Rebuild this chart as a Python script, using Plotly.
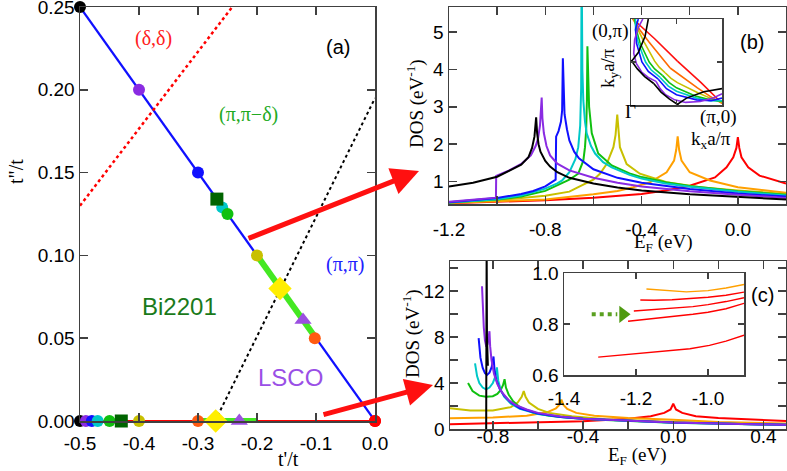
import plotly.graph_objects as go

W, H = 787, 471
SANS = "Liberation Sans"
SERIF = "Liberation Serif"
FRAME = "#404040"

# ---------------- colours ----------------
C_BLACK = "#000000"
C_PURPLE = "#8a2be2"
C_BLUE = "#1010ff"
C_CYAN = "#00c8c8"
C_GREEN = "#10c010"
C_OLIVE = "#c8c000"
C_ORANGE = "#ffa000"
C_ORANGERED = "#ff5a10"
C_RED = "#ff0000"
C_DKGREEN = "#006400"
C_YELLOW = "#ffee00"
C_TRI = "#9b4fe0"
C_LIME = "#44e822"

# ---------------- panel (a) data ----------------
diag_tp = [-0.5, 0.0]
diag_tpp = [0.25, 0.0]
base_tp = [-0.5, 0.0]
base_tpp = [0.0, 0.0]
green_diag_tp = [-0.2, -0.1]
green_diag_tpp = [0.10, 0.05]
green_base_tp = [-0.3, -0.2]
green_base_tpp = [0.0, 0.0]
dd_tp = [-0.5, -0.242]
dd_tpp = [0.13, 0.25]
pp_tp = [-0.271, 0.0]
pp_tpp = [0.0, 0.195]

circ_diag_tp = [-0.5, -0.4, -0.3, -0.259, -0.25, -0.2, -0.102, 0.0]
circ_diag_tpp = [0.25, 0.2, 0.15, 0.129, 0.125, 0.1, 0.05, 0.0]
circ_base_tp = [-0.5, -0.49, -0.48, -0.47, -0.45, -0.4, -0.3, 0.0]
circ_base_tpp = [0.0, 0.0, 0.0, 0.0, 0.0, 0.0, 0.0, 0.0]
circ_colors = [C_BLACK, C_PURPLE, C_BLUE, C_CYAN, C_GREEN, C_OLIVE, C_ORANGERED, C_RED]
sq_tp = [-0.268, -0.43]
sq_tpp = [0.134, 0.0]
dia_tp = [-0.161, -0.27]
dia_tpp = [0.08, 0.0]
tri_tp = [-0.122, -0.23]
tri_tpp = [0.061, 0.0]

# ---------------- panel (b) DOS data ----------------
b_black_e = [-1.2, -1.1, -1.0, -0.95, -0.9, -0.87, -0.855, -0.845, -0.84, -0.838, -0.834, -0.828, -0.82, -0.8, -0.78, -0.75, -0.7, -0.6, -0.5, -0.4, -0.2, 0.0, 0.2]
b_black_d = [0.87, 0.97, 1.13, 1.28, 1.45, 1.65, 1.9, 2.2, 2.5, 2.72, 2.3, 2.0, 1.8, 1.55, 1.4, 1.25, 1.1, 0.95, 0.84, 0.76, 0.66, 0.58, 0.52]
b_purple_e = [-1.2, -1.1, -1.005, -1.004, -0.95, -0.9, -0.86, -0.84, -0.83, -0.822, -0.818, -0.815, -0.812, -0.806, -0.795, -0.78, -0.75, -0.7, -0.6, -0.5, -0.4, -0.2, 0.0, 0.2]
b_purple_d = [0.46, 0.51, 0.57, 1.15, 1.3, 1.47, 1.7, 1.95, 2.15, 2.5, 2.8, 3.25, 2.7, 2.3, 1.95, 1.7, 1.48, 1.3, 1.1, 0.97, 0.87, 0.74, 0.65, 0.56]
b_blue_e = [-1.2, -1.1, -1.0, -0.9, -0.85, -0.8, -0.77, -0.757, -0.755, -0.745, -0.735, -0.73, -0.727, -0.724, -0.72, -0.71, -0.7, -0.68, -0.66, -0.6, -0.5, -0.4, -0.2, 0.0, 0.2]
b_blue_d = [0.45, 0.5, 0.56, 0.67, 0.75, 0.87, 0.98, 1.05, 2.2, 2.35, 2.6, 2.9, 4.3, 3.2, 2.8, 2.4, 2.1, 1.8, 1.62, 1.33, 1.1, 0.97, 0.8, 0.68, 0.6]
b_cyan_e = [-1.2, -1.0, -0.9, -0.8, -0.75, -0.73, -0.7, -0.69, -0.675, -0.663, -0.655, -0.651, -0.649, -0.646, -0.642, -0.635, -0.628, -0.61, -0.593, -0.56, -0.524, -0.45, -0.4, -0.3, -0.2, 0.0, 0.2]
b_cyan_d = [0.44, 0.53, 0.63, 0.81, 0.95, 1.03, 1.25, 1.38, 1.6, 1.92, 2.5, 3.5, 7.0, 4.0, 3.17, 2.6, 2.29, 1.95, 1.75, 1.52, 1.38, 1.18, 1.08, 0.95, 0.86, 0.73, 0.63]
b_green_e = [-1.2, -1.0, -0.9, -0.8, -0.7, -0.663, -0.642, -0.635, -0.63, -0.627, -0.625, -0.622, -0.618, -0.607, -0.58, -0.524, -0.45, -0.4, -0.3, -0.2, 0.0, 0.2]
b_green_d = [0.44, 0.52, 0.6, 0.75, 1.05, 1.21, 1.56, 1.92, 2.4, 3.2, 4.62, 3.6, 3.0, 2.3, 1.75, 1.43, 1.22, 1.12, 0.98, 0.88, 0.74, 0.65]
b_olive_e = [-1.2, -1.0, -0.8, -0.7, -0.663, -0.6, -0.573, -0.545, -0.517, -0.508, -0.501, -0.495, -0.49, -0.462, -0.407, -0.296, -0.158, 0.0, 0.2]
b_olive_d = [0.44, 0.5, 0.62, 0.73, 0.85, 1.05, 1.21, 1.47, 1.92, 2.25, 2.79, 2.3, 1.92, 1.47, 1.21, 0.98, 0.85, 0.76, 0.67]
b_orange_e = [-1.2, -1.0, -0.8, -0.6, -0.5, -0.435, -0.365, -0.296, -0.265, -0.256, -0.25, -0.244, -0.234, -0.2, -0.116, 0.0, 0.1, 0.2]
b_orange_d = [0.43, 0.47, 0.52, 0.66, 0.75, 0.85, 0.98, 1.25, 1.56, 1.85, 2.21, 1.85, 1.56, 1.25, 1.03, 0.85, 0.77, 0.7]
b_red_e = [-1.2, -1.0, -0.8, -0.6, -0.4, -0.3, -0.2, -0.095, -0.047, -0.019, -0.006, 0.0, 0.006, 0.015, 0.043, 0.09, 0.2]
b_red_d = [0.42, 0.45, 0.5, 0.57, 0.67, 0.76, 0.89, 1.11, 1.38, 1.65, 1.9, 2.19, 1.9, 1.65, 1.38, 1.16, 0.95]

# ---------------- inset (b): Fermi surfaces (one half; other half is the kx<->ky mirror) ----------------
fs_red_kx = [0.02, 0.26, 0.51]
fs_red_ky = [1.0, 0.77, 0.51]
fs_orange_kx = [0.02, 0.1, 0.2, 0.3, 0.36, 0.43]
fs_orange_ky = [1.0, 0.87, 0.73, 0.6, 0.52, 0.43]
fs_olive_kx = [0.03, 0.08, 0.14, 0.2, 0.26, 0.31, 0.375]
fs_olive_ky = [1.0, 0.87, 0.74, 0.62, 0.51, 0.44, 0.375]
fs_green_kx = [0.04, 0.06, 0.1, 0.15, 0.2, 0.26, 0.345]
fs_green_ky = [1.0, 0.87, 0.72, 0.6, 0.5, 0.42, 0.345]
fs_cyan_kx = [0.05, 0.05, 0.08, 0.12, 0.16, 0.22, 0.32]
fs_cyan_ky = [1.0, 0.87, 0.72, 0.6, 0.5, 0.41, 0.32]
fs_blue_kx = [0.08, 0.05, 0.06, 0.09, 0.12, 0.19, 0.3]
fs_blue_ky = [1.0, 0.88, 0.72, 0.6, 0.5, 0.39, 0.3]
fs_purple_kx = [0.13, 0.08, 0.04, 0.03, 0.06, 0.12, 0.19, 0.275]
fs_purple_ky = [1.0, 0.9, 0.76, 0.6, 0.48, 0.38, 0.32, 0.275]
fs_black_kx = [0.0, 0.07, 0.15, 0.25]
fs_black_ky = [0.52, 0.42, 0.33, 0.25]
fs_black_arc_kx = [0.0, 0.08, 0.155, 0.19]
fs_black_arc_ky = [0.5, 0.61, 0.8, 1.0]

# ---------------- panel (c) DOS data ----------------
c_red_e = [-0.99, -0.8, -0.6, -0.4, -0.2, -0.1, -0.04, -0.012, 0.0, 0.012, 0.04, 0.1, 0.2, 0.35, 0.5]
c_red_d = [0.42, 0.5, 0.57, 0.67, 0.89, 1.1, 1.4, 1.7, 2.19, 1.7, 1.4, 1.1, 0.95, 0.8, 0.7]
c_orange_e = [-0.99, -0.8, -0.65, -0.56, -0.52, -0.505, -0.496, -0.487, -0.47, -0.43, -0.35, -0.2, 0.0, 0.2, 0.5]
c_orange_d = [0.93, 1.0, 1.15, 1.45, 1.8, 2.1, 2.55, 2.1, 1.75, 1.4, 1.15, 0.95, 0.8, 0.6, 0.47]
c_olive_e = [-0.99, -0.9, -0.8, -0.72, -0.69, -0.672, -0.663, -0.655, -0.64, -0.6, -0.55, -0.45, -0.3, 0.0, 0.5]
c_olive_d = [1.8, 1.6, 1.6, 1.9, 2.3, 2.8, 3.3, 2.8, 2.3, 1.75, 1.4, 1.1, 0.85, 0.6, 0.38]
c_green_e = [-0.91, -0.89, -0.86, -0.83, -0.8, -0.78, -0.765, -0.755, -0.748, -0.742, -0.73, -0.71, -0.68, -0.62, -0.55, -0.45, -0.3, 0.0, 0.5]
c_green_d = [4.0, 3.3, 2.9, 2.8, 2.85, 3.05, 3.4, 3.8, 4.33, 3.6, 3.0, 2.4, 1.9, 1.4, 1.15, 0.95, 0.78, 0.55, 0.36]
c_cyan_e = [-0.879, -0.87, -0.86, -0.845, -0.83, -0.815, -0.8, -0.79, -0.782, -0.776, -0.765, -0.75, -0.72, -0.68, -0.6, -0.5, -0.4, -0.2, 0.0, 0.5]
c_cyan_d = [5.7, 4.6, 4.0, 3.6, 3.45, 3.6, 4.0, 4.5, 5.35, 4.2, 3.4, 2.8, 2.2, 1.75, 1.3, 1.05, 0.9, 0.72, 0.55, 0.36]
c_blue_e = [-0.863, -0.855, -0.845, -0.835, -0.826, -0.815, -0.805, -0.797, -0.792, -0.785, -0.77, -0.75, -0.72, -0.68, -0.6, -0.5, -0.4, -0.2, 0.0, 0.5]
c_blue_d = [7.9, 6.2, 5.3, 4.85, 4.7, 4.9, 5.4, 6.3, 5.0, 4.3, 3.5, 2.9, 2.3, 1.8, 1.35, 1.05, 0.9, 0.72, 0.56, 0.36]
c_purple_e = [-0.848, -0.845, -0.84, -0.835, -0.829, -0.823, -0.818, -0.815, -0.812, -0.806, -0.795, -0.78, -0.76, -0.73, -0.7, -0.65, -0.6, -0.5, -0.4, -0.2, 0.0, 0.5]
c_purple_d = [12.4, 10.5, 8.8, 7.7, 7.15, 7.4, 7.9, 8.5, 7.2, 6.0, 4.8, 3.9, 3.2, 2.5, 2.1, 1.7, 1.4, 1.08, 0.9, 0.72, 0.56, 0.36]
c_black_e = [-0.8295, -0.829, -0.8275, -0.826, -0.822]
c_black_d = [0.0, 16.0, 16.0, 8.0, 5.5]

# ---------------- inset (c) data ----------------
ci_orange_e = [-1.171, -1.13, -1.06, -1.0, -0.95, -0.9]
ci_orange_d = [0.937, 0.932, 0.926, 0.931, 0.941, 0.955]
ci_red1_e = [-1.188, -1.15, -1.1, -1.042, -1.0, -0.95, -0.9]
ci_red1_d = [0.894, 0.893, 0.895, 0.9, 0.905, 0.913, 0.925]
ci_red2_e = [-1.206, -1.15, -1.1, -1.042, -1.0, -0.95, -0.9]
ci_red2_d = [0.851, 0.856, 0.861, 0.868, 0.876, 0.888, 0.903]
ci_red3_e = [-1.222, -1.15, -1.1, -1.042, -1.0, -0.95, -0.9]
ci_red3_d = [0.811, 0.821, 0.829, 0.838, 0.846, 0.86, 0.881]
ci_red4_e = [-1.305, -1.2, -1.134, -1.05, -0.996, -0.95, -0.9]
ci_red4_d = [0.67, 0.683, 0.69, 0.703, 0.716, 0.733, 0.756]
ci_arrow_e = [-1.323, -1.252]
ci_arrow_d = [0.838, 0.838]
ci_head_e = [-1.236]
ci_head_d = [0.838]

fig = go.Figure()


def line(x, y, color, width=2, xa="x", ya="y", dash=None, clip=True):
    fig.add_trace(go.Scatter(x=x, y=y, mode="lines", xaxis=xa, yaxis=ya,
                             line=dict(color=color, width=width, dash=dash),
                             cliponaxis=clip, hoverinfo="skip"))


# ----- panel (a) -----
line(base_tp, base_tpp, C_RED, 2.2)
line(green_base_tp, green_base_tpp, C_LIME, 6)
line(diag_tp, diag_tpp, C_BLUE, 2.2)
line(green_diag_tp, green_diag_tpp, C_LIME, 6)
line(dd_tp, dd_tpp, C_RED, 2.5, dash="dot")
line(pp_tp, pp_tpp, C_BLACK, 2, dash="dot")

fig.add_trace(go.Scatter(x=circ_diag_tp + circ_base_tp, y=circ_diag_tpp + circ_base_tpp, mode="markers",
                         marker=dict(symbol="circle", size=12, color=circ_colors + circ_colors),
                         cliponaxis=False, hoverinfo="skip"))
fig.add_trace(go.Scatter(x=sq_tp, y=sq_tpp, mode="markers",
                         marker=dict(symbol="square", size=13, color=C_DKGREEN), cliponaxis=False))
fig.add_trace(go.Scatter(x=dia_tp, y=dia_tpp, mode="markers",
                         marker=dict(symbol="diamond", size=18, color=C_YELLOW), cliponaxis=False))
fig.add_trace(go.Scatter(x=tri_tp, y=tri_tpp, mode="markers",
                         marker=dict(symbol="triangle-up", size=15, color=C_TRI), cliponaxis=False))

# ----- panel (b) -----
for e, d, c in [(b_red_e, b_red_d, C_RED), (b_orange_e, b_orange_d, C_ORANGE),
                (b_olive_e, b_olive_d, C_OLIVE), (b_green_e, b_green_d, C_GREEN),
                (b_cyan_e, b_cyan_d, C_CYAN), (b_blue_e, b_blue_d, C_BLUE),
                (b_purple_e, b_purple_d, C_PURPLE), (b_black_e, b_black_d, C_BLACK)]:
    line(e, d, c, 2, "x2", "y2")

# ----- inset (b) -----
FS_RED = "#ff1010"
FS_ORANGE = "#ff6a00"
for kx, ky, c in [(fs_red_kx, fs_red_ky, FS_RED), (fs_orange_kx, fs_orange_ky, FS_ORANGE),
                  (fs_olive_kx, fs_olive_ky, C_OLIVE), (fs_green_kx, fs_green_ky, C_GREEN),
                  (fs_cyan_kx, fs_cyan_ky, C_CYAN), (fs_blue_kx, fs_blue_ky, C_BLUE),
                  (fs_purple_kx, fs_purple_ky, C_PURPLE), (fs_black_kx, fs_black_ky, C_BLACK),
                  (fs_black_arc_kx, fs_black_arc_ky, C_BLACK)]:
    line(kx, ky, c, 1.6, "x4", "y4")
    line(ky, kx, c, 1.6, "x4", "y4")

# ----- panel (c) -----
for e, d, c in [(c_red_e, c_red_d, C_RED), (c_orange_e, c_orange_d, C_ORANGE),
                (c_olive_e, c_olive_d, C_OLIVE), (c_green_e, c_green_d, C_GREEN),
                (c_cyan_e, c_cyan_d, C_CYAN), (c_blue_e, c_blue_d, C_BLUE),
                (c_purple_e, c_purple_d, C_PURPLE), (c_black_e, c_black_d, C_BLACK)]:
    line(e, d, c, 2, "x3", "y3")

# ----- inset (c) -----
line(ci_orange_e, ci_orange_d, C_ORANGE, 1.4, "x5", "y5")
for e, d in [(ci_red1_e, ci_red1_d), (ci_red2_e, ci_red2_d), (ci_red3_e, ci_red3_d), (ci_red4_e, ci_red4_d)]:
    line(e, d, C_RED, 1.4, "x5", "y5")
line(ci_arrow_e, ci_arrow_d, "#5aa020", 4, "x5", "y5", dash="dot")
fig.add_trace(go.Scatter(x=ci_head_e, y=ci_head_d, mode="markers", xaxis="x5", yaxis="y5",
                         marker=dict(symbol="triangle-right", size=15, color="#4e9a10")))


def dom_x(a, b):
    return [a / W, b / W]


def dom_y(top, bottom):
    return [1 - bottom / H, 1 - top / H]


def axis(domain, rng, tickvals, ticktext=None, anchor=None, ticklen=8, standoff=0, labels=True, size=19):
    d = dict(domain=domain, range=rng, anchor=anchor, showline=True, linecolor=FRAME, linewidth=1.5,
             mirror="ticks", ticks="inside", ticklen=ticklen, tickwidth=1.5, tickcolor=FRAME,
             tickvals=tickvals, showgrid=False, zeroline=False, fixedrange=True, automargin=False,
             tickfont=dict(family=SANS, size=size, color="black"), ticklabelstandoff=standoff,
             ticklabeloverflow="allow", showticklabels=labels)
    if ticktext is not None:
        d["ticktext"] = ticktext
    return d


layout = dict(
    width=W, height=H, margin=dict(l=0, r=0, t=0, b=0, autoexpand=False),
    paper_bgcolor="white", plot_bgcolor="white", showlegend=False,
    xaxis=axis(dom_x(80, 375), [-0.5, 0.0], [-0.5, -0.4, -0.3, -0.2, -0.1, 0.0],
               ["-0.5", "-0.4", "-0.3", "-0.2", "-0.1", "0.0"], anchor="y", standoff=5),
    yaxis=axis(dom_y(7, 421), [0.0, 0.25], [0.0, 0.05, 0.1, 0.15, 0.2, 0.25],
               ["0.00", "0.05", "0.10", "0.15", "0.20", "0.25"], anchor="x", standoff=0),
    xaxis2=axis(dom_x(449, 786), [-1.2, 0.2], [-1.2, -1.0, -0.8, -0.6, -0.4, -0.2, 0.0, 0.2],
                ["-1.2", "", "-0.8", "", "-0.4", "", "0.0", ""], anchor="y2", standoff=8),
    yaxis2=axis(dom_y(7, 204), [0.4, 5.67], [1, 2, 3, 4, 5], ["1", "2", "3", "4", "5"], anchor="x2", standoff=0),
    xaxis3=axis(dom_x(450, 786), [-0.99, 0.5], [-0.8, -0.6, -0.4, -0.2, 0.0, 0.2, 0.4],
                ["-0.8", "", "-0.4", "", "0.0", "", "0.4"], anchor="y3", standoff=-10),
    yaxis3=axis(dom_y(261, 429), [0.0, 14.6], [0, 2, 4, 6, 8, 10, 12, 14],
                ["0", "", "4", "", "8", "", "12", ""], anchor="x3", standoff=0),
    xaxis4=axis(dom_x(631, 722), [0.0, 1.0], [0.5], anchor="y4", ticklen=5, labels=False),
    yaxis4=axis(dom_y(19, 105), [0.0, 1.0], [0.5], anchor="x4", ticklen=5, labels=False),
    xaxis5=axis(dom_x(564, 744), [-1.4, -0.9], [-1.4, -1.2, -1.0], ["-1.4", "-1.2", "-1.0"],
                anchor="y5", ticklen=6, standoff=6),
    yaxis5=axis(dom_y(273, 375), [0.6, 1.0], [0.6, 0.8, 1.0], ["0.6", "0.8", "1.0"],
                anchor="x5", ticklen=6, standoff=0),
)
fig.update_layout(**layout)


def txt(x, y, s, color="black", size=20, family=SERIF, angle=0):
    return dict(x=x / W, y=1 - y / H, xref="paper", yref="paper", text=s, showarrow=False,
                xanchor="center", yanchor="middle", textangle=angle,
                font=dict(family=family, size=size, color=color))


ann = [
    txt(153, 39, "(δ,δ)", "#ff2020"),
    txt(338, 47, "(a)", size=20, family=SANS),
    txt(248, 115, "(π,π\u2212δ)", "#22aa22"),
    txt(345, 264, "(π,π)", "#2020ff"),
    txt(179, 306, "Bi2201", "#1a7a1a", size=24, family=SANS),
    txt(290, 377, "LSCO", "#9a4fe6", size=24, family=SANS),
    txt(16, 172, "t\"/t", angle=-90),
    txt(288, 459, "t'/t"),
    txt(416, 104, "DOS (eV<sup>-1</sup>)", angle=-90, size=19),
    txt(663, 243, "E<sub>F</sub> (eV)", size=19),
    txt(411, 334, "DOS (eV<sup>-1</sup>)", angle=-90, size=19),
    txt(637, 456, "E<sub>F</sub> (eV)", size=19),
    txt(752, 42, "(b)", size=20, family=SANS),
    txt(762, 295, "(c)", size=20, family=SANS),
    txt(610, 31, "(0,π)", size=19),
    txt(609, 68, "k<sub>y</sub>a/π", angle=-90, size=19),
    txt(630, 112, "Γ", size=19),
    txt(718, 117, "(π,0)", size=19),
    txt(711, 140, "k<sub>x</sub>a/π", size=19),
]

# red arrows linking panel (a) to panels (b) and (c)
for (x0, y0, x1, y1) in [(247, 239, 419, 171), (322, 415, 433, 385)]:
    ann.append(dict(x=x1 / W, y=1 - y1 / H, xref="paper", yref="paper",
                    ax=x0 - x1, ay=y0 - y1, axref="pixel", ayref="pixel",
                    showarrow=True, arrowhead=2, arrowsize=1.1, arrowwidth=5,
                    arrowcolor="#ff1010", text=""))

fig.update_layout(annotations=ann)
fig.write_html("out.html", config={"displayModeBar": False, "staticPlot": True},
               post_script="document.body.style.margin='0px';document.body.style.padding='0px';")
